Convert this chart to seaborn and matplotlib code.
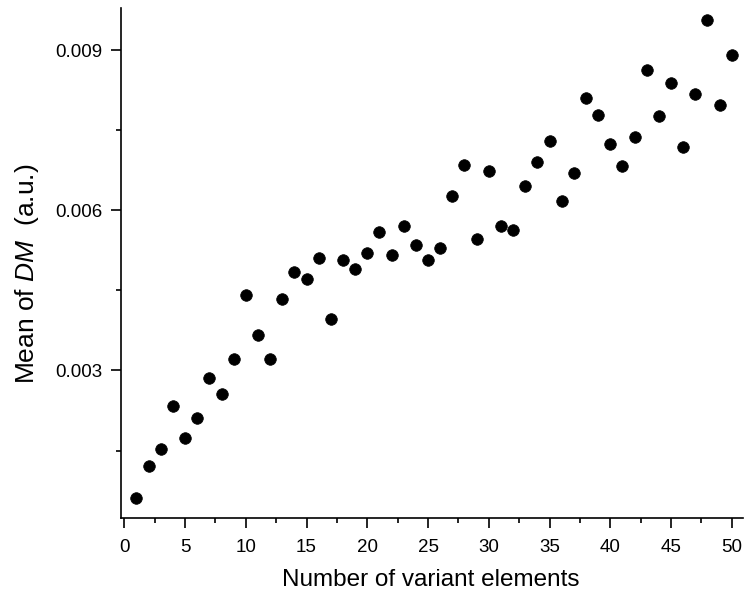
import matplotlib
matplotlib.use("Agg")
import matplotlib.pyplot as plt
import seaborn as sns
import pandas as pd
from matplotlib.ticker import MultipleLocator

n_elements = list(range(1, 51))
mean_dm = [0.000619, 0.001206, 0.001531, 0.002331, 0.001744, 0.002112, 0.002862, 0.002550, 0.003212, 0.004419,
           0.003656, 0.003206, 0.004344, 0.004844, 0.004719, 0.005106, 0.003956, 0.005075, 0.004906, 0.005206,
           0.005594, 0.005156, 0.005706, 0.005350, 0.005063, 0.005288, 0.006263, 0.006844, 0.005456, 0.006744,
           0.005713, 0.005625, 0.006463, 0.006913, 0.007306, 0.006175, 0.006700, 0.008113, 0.007794, 0.007238,
           0.006825, 0.007381, 0.008631, 0.007763, 0.008381, 0.007188, 0.008188, 0.009563, 0.007981, 0.008906]
y_ticks = [0.003, 0.006, 0.009]
y_ticklabels = ["0.003", "0.006", "0.009"]
x_ticks = [0, 5, 10, 15, 20, 25, 30, 35, 40, 45, 50]

sns.set_style("ticks")
plt.rcParams['font.family'] = ['Liberation Sans', 'DejaVu Sans']
plt.rcParams['mathtext.fontset'] = 'custom'
plt.rcParams['mathtext.rm'] = 'Liberation Sans'
plt.rcParams['mathtext.it'] = 'Liberation Sans:italic'
plt.rcParams['text.color'] = 'black'
plt.rcParams['axes.labelcolor'] = 'black'

df = pd.DataFrame({"n": n_elements, "dm": mean_dm})

fig = plt.figure(figsize=(7.44, 5.94), dpi=100)
ax = fig.add_axes([0.1622, 0.1274, 0.836, 0.8591])
sns.scatterplot(data=df, x="n", y="dm", ax=ax, color="black", s=70, edgecolor="black", linewidth=0.5)

ax.set_xlim(-0.3, 50.9)
ax.set_ylim(0.00023, 0.00979)
ax.set_xticks(x_ticks)
ax.set_xticklabels([str(t) for t in x_ticks])
ax.set_yticks(y_ticks)
ax.set_yticklabels(y_ticklabels)
ax.xaxis.set_minor_locator(MultipleLocator(2.5))
ax.yaxis.set_minor_locator(MultipleLocator(0.0015))

for s in ["top", "right"]:
    ax.spines[s].set_visible(False)
for s in ["left", "bottom"]:
    ax.spines[s].set_linewidth(1.2)
    ax.spines[s].set_color("black")

ax.tick_params(axis="both", which="major", length=7, width=1.2, color="black",
               labelsize=13.5, labelcolor="black", direction="out")
ax.tick_params(axis="x", which="major", pad=8)
ax.tick_params(axis="y", which="major", pad=6)
ax.tick_params(axis="both", which="minor", length=3.5, width=1.2, color="black", direction="out")

ax.set_xlabel("Number of variant elements", fontsize=17.5, color="black")
ax.set_ylabel(r"Mean of $\mathit{DM}$  (a.u.)", fontsize=19, color="black")
ax.xaxis.set_label_coords(0.4985, -0.100)
ax.yaxis.set_label_coords(-0.128, 0.479)

fig.savefig("out.png", dpi=100)
